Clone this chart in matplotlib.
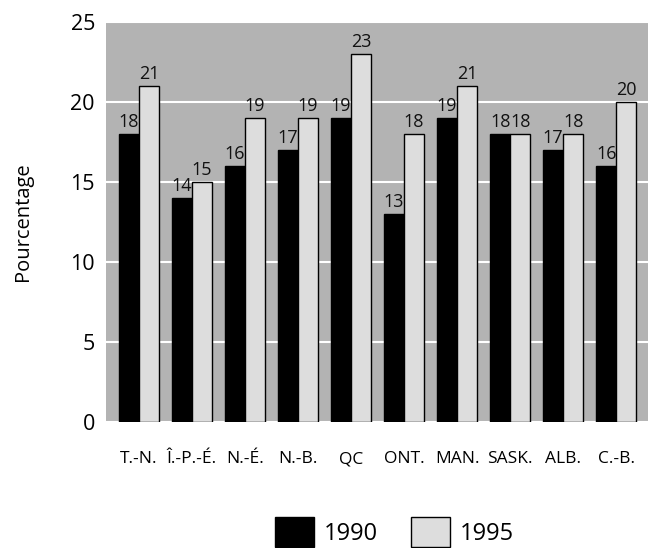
import numpy as np
from matplotlib import pyplot as plt

provinces = ["T.-N.", "Î.-P.-É.", "N.-É.", "N.-B.", "QC", "ONT.", "MAN.", "SASK.", "ALB.", "C.-B."]
values_1990 = [18, 14, 16, 17, 19, 13, 19, 18, 17, 16]
values_1995 = [21, 15, 19, 19, 23, 18, 21, 18, 18, 20]
y_ticks = [0, 5, 10, 15, 20, 25]

plt.rcParams["font.family"] = ["Open Sans", "DejaVu Sans"]

fig = plt.figure(figsize=(6.52, 5.48), dpi=100)
ax = fig.add_axes([0.1626, 0.2299, 0.8313, 0.730])
ax.set_facecolor("#b3b3b3")

x = np.arange(len(provinces))
w = 0.377
b1 = ax.bar(x - w / 2, values_1990, w, color="black", edgecolor="black", linewidth=1, label="1990", zorder=3)
b2 = ax.bar(x + w / 2, values_1995, w, color="#dddddd", edgecolor="black", linewidth=1, label="1995", zorder=3)

# value labels above each bar
for bars, vals in ((b1, values_1990), (b2, values_1995)):
    for rect, v in zip(bars, vals):
        ax.annotate(str(v), (rect.get_x() + rect.get_width() / 2, v),
                    xytext=(0, 2.5), textcoords="offset points",
                    ha="center", va="bottom", fontsize=13, color="#111111")

ax.set_xlim(-0.62, 9.6)
ax.set_ylim(0, 25)
ax.set_yticks(y_ticks)
ax.set_yticklabels([str(t) for t in y_ticks], fontsize=15.5)
ax.set_xticks(x)
ax.set_xticklabels(provinces, fontsize=12.5)
ax.tick_params(axis="both", length=0)
ax.tick_params(axis="x", pad=21)
ax.tick_params(axis="y", pad=8)
ax.yaxis.grid(True, color="white", linewidth=1.5, zorder=0)
ax.set_axisbelow(True)
for s in ax.spines.values():
    s.set_visible(False)

ax.set_ylabel("Pourcentage", fontsize=14.5, labelpad=27)

fig.legend(loc="lower center", bbox_to_anchor=(0.605, 0.0), ncol=2, frameon=False,
           fontsize=17, handlelength=1.65, handleheight=1.57, columnspacing=1.44, handletextpad=0.38,
           borderaxespad=0.0, borderpad=0.05)

fig.savefig("out.png", dpi=100)
